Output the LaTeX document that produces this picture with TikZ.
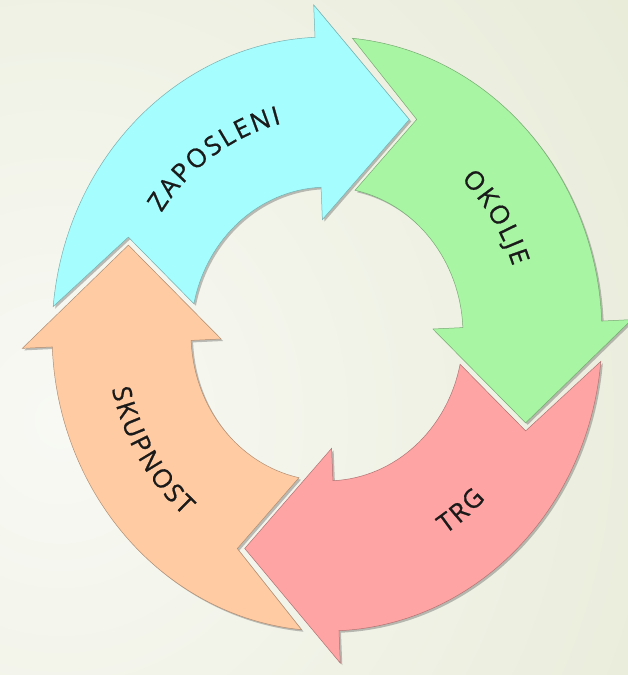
\documentclass[tikz,border=0pt]{standalone}
\usepackage{fontspec}
\newfontfamily\arrowfont[FakeBold=0.8]{Open Sans}
\usetikzlibrary{shadows,decorations.text}
\definecolor{cBlue}{HTML}{A6FDFE}
\definecolor{cGreen}{HTML}{A8F5A3}
\definecolor{cRed}{HTML}{FFA4A4}
\definecolor{cPeach}{HTML}{FFCBA3}
\definecolor{bgIn}{HTML}{F8F9F4}
\definecolor{bgOut}{HTML}{DCE1C3}
\definecolor{txt}{HTML}{1A1A1A}
\tikzset{
  arrowshape/.style={fill=#1, draw=#1!70!black, line width=0.5bp, line join=miter,
    drop shadow={shadow xshift=2bp, shadow yshift=-2bp, opacity=0.35, fill=black!70}},
  ringtext/.style={decorate, decoration={text along path, text align=center,
    text color=txt, text={|\arrowfont\fontsize{26}{26}\selectfont\kern2.2bp|#1}}}
}
\begin{document}
\begin{tikzpicture}[x=1bp, y=1.08bp]
\useasboundingbox (-327,-315.741) rectangle (301,309.259);
\begin{scope}
  \clip (-327,-315.741) rectangle (301,309.259);
  \shade[inner color=bgIn, outer color=bgOut] (-267,-80) circle (1240);
\end{scope}
\foreach \b/\c in {92.5/cBlue, 2.5/cGreen, -87.5/cRed, -177.5/cPeach}{
  \pgfmathsetmacro\p{\b+90}
  \pgfmathsetmacro\ao{\p-7.8}
  \pgfmathsetmacro\ai{\p-14.4}
  \pgfmathsetmacro\an{\p-26.8}
  \pgfmathsetmacro\at{\b-25}
  \path[arrowshape=\c] (\ao:275) arc[start angle=\ao, end angle=\b, radius=275]
    -- (\b:305) -- (\at:215) -- (\b:106) -- (\b:136)
    arc[start angle=\b, end angle=\ai, radius=136] -- (\an:218) -- cycle;
}
\path[ringtext=ZAPOSLENI] (170:200) arc[start angle=170, end angle=78, radius=200];
\path[ringtext=OKOLJE] (80:196) arc[start angle=80, end angle=-12, radius=196];
\path[ringtext=TRG] (-98:220) arc[start angle=-98, end angle=-6, radius=220];
\path[ringtext=SKUPNOST] (166:221) arc[start angle=166, end angle=258, radius=221];
\end{tikzpicture}
\end{document}
